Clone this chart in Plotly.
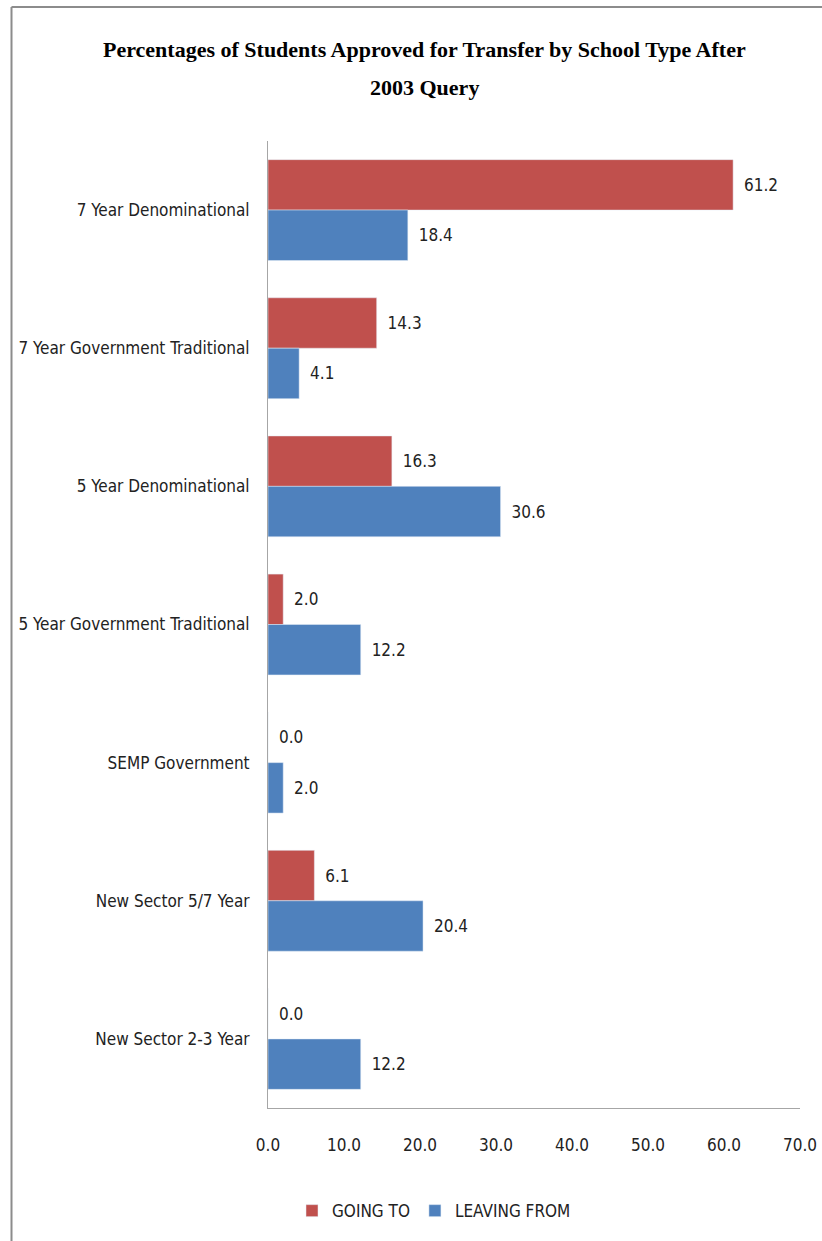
import plotly.graph_objects as go

categories = ["7 Year Denominational", "7 Year Government Traditional", "5 Year Denominational",
              "5 Year Government Traditional", "SEMP Government", "New Sector 5/7 Year",
              "New Sector 2-3 Year"]
going_to = [61.2, 14.3, 16.3, 2.0, 0.0, 6.1, 0.0]
leaving_from = [18.4, 4.1, 30.6, 12.2, 2.0, 20.4, 12.2]
x_ticks = [0, 10, 20, 30, 40, 50, 60, 70]

LABEL_FONT = "Liberation Sans Narrow, Arial Narrow, DejaVu Sans Condensed, sans-serif"
TITLE_FONT = "Liberation Serif, Times New Roman, serif"
NB = "\u00a0\u2009"

L, R, T, B = 268, 22, 141, 133
PW, PH = 822 - L - R, 1241 - T - B

fig = go.Figure()
fig.add_trace(go.Bar(
    name="GOING TO", y=categories, x=going_to, orientation="h",
    marker=dict(color="#C0504D"),
    text=[f"{NB}{v:.1f}" for v in going_to], textposition="outside",
    textfont=dict(family=LABEL_FONT, size=17, color="#222222"),
    cliponaxis=False,
))
fig.add_trace(go.Bar(
    name="LEAVING FROM", y=categories, x=leaving_from, orientation="h",
    marker=dict(color="#4F81BD"),
    text=[f"{NB}{v:.1f}" for v in leaving_from], textposition="outside",
    textfont=dict(family=LABEL_FONT, size=17, color="#222222"),
    cliponaxis=False,
))

fig.update_layout(
    width=822, height=1241,
    margin=dict(l=L, r=R, t=T, b=B, autoexpand=False),
    paper_bgcolor="white", plot_bgcolor="white",
    barmode="group", bargap=0.27, bargroupgap=0,
    xaxis=dict(
        range=[0, 70], tickvals=x_ticks, ticktext=[f"{v:.1f}" for v in x_ticks],
        showgrid=False, zeroline=False, showline=True, linecolor="#A6A6A6", linewidth=1,
        ticks="", ticklabelstandoff=22, automargin=False,
        tickfont=dict(family=LABEL_FONT, size=17, color="#222222"),
    ),
    yaxis=dict(
        autorange="reversed", showgrid=False, zeroline=False,
        showline=True, linecolor="#A6A6A6", linewidth=1, ticks="",
        ticklabelstandoff=14, automargin=False,
        tickfont=dict(family=LABEL_FONT, size=17, color="#222222"),
    ),
    legend=dict(
        orientation="h", x=(434 - L) / PW, xanchor="center", y=-0.088, yanchor="top",
        font=dict(family=LABEL_FONT, size=17, color="#222222"),
        itemwidth=30, traceorder="normal",
    ),
    annotations=[
        dict(text="<b>Percentages of Students Approved for Transfer by School Type After</b>",
             xref="paper", yref="paper", x=(424 - L) / PW, y=(1241 - B - 49) / PH,
             xanchor="center", yanchor="middle", showarrow=False,
             font=dict(family=TITLE_FONT, size=22, color="black")),
        dict(text="<b>2003 Query</b>",
             xref="paper", yref="paper", x=(424 - L) / PW, y=(1241 - B - 88) / PH,
             xanchor="center", yanchor="middle", showarrow=False,
             font=dict(family=TITLE_FONT, size=22, color="black")),
    ],
    shapes=[
        dict(type="line", xref="paper", yref="paper",
             x0=(11.5 - L) / PW, x1=1.2, y0=(1241 - B - 7) / PH, y1=(1241 - B - 7) / PH,
             line=dict(color="#8C8C8C", width=2)),
        dict(type="line", xref="paper", yref="paper",
             x0=(11.5 - L) / PW, x1=(11.5 - L) / PW, y0=(1241 - B - 7) / PH, y1=-0.2,
             line=dict(color="#8C8C8C", width=2)),
    ],
)

fig.write_html("out.html")
